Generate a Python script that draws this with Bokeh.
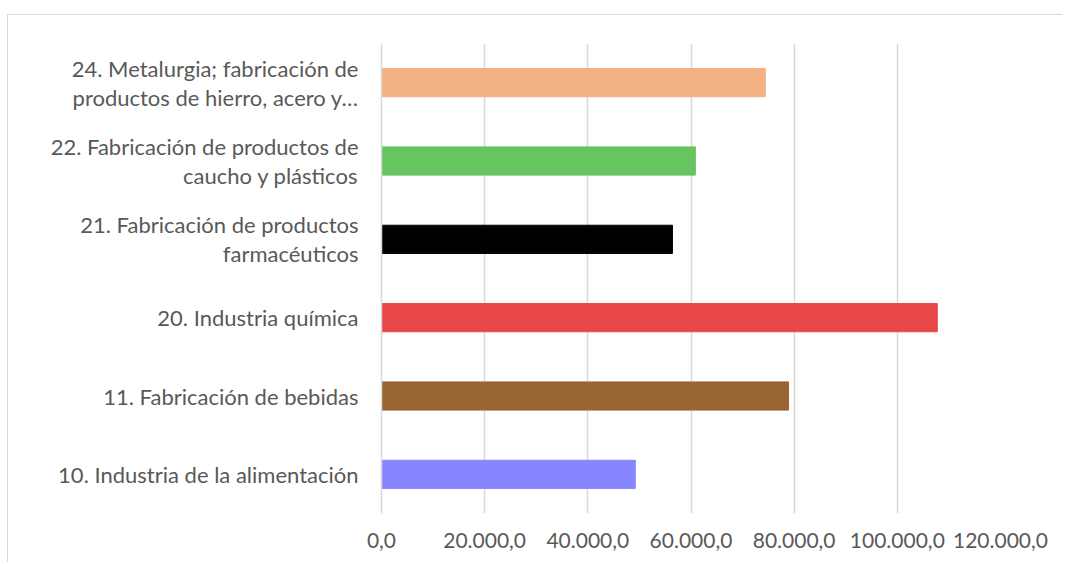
from bokeh.plotting import figure
from bokeh.models import FactorRange, FixedTicker, ColumnDataSource, Range1d
from bokeh.embed import file_html
from bokeh.resources import INLINE

categories = [
    "10. Industria de la alimentación",
    "11. Fabricación de bebidas",
    "20. Industria química",
    "21. Fabricación de productos\nfarmacéuticos",
    "22. Fabricación de productos de\ncaucho y plásticos",
    "24. Metalurgia; fabricación de\nproductos de hierro, acero y…",
]
values = [49200, 78900, 107750, 56400, 60850, 74400]
colors = ["#8686FF", "#996633", "#E84747", "#000000", "#66C55F", "#F4B183"]
tick_values = [0, 20000, 40000, 60000, 80000, 100000, 120000]
tick_labels = ["0,0", "20.000,0", "40.000,0", "60.000,0", "80.000,0", "100.000,0", "120.000,0"]

src = ColumnDataSource(dict(cat=categories, val=values, color=colors))

p = figure(
    width=1055, height=548,
    y_range=FactorRange(*categories, range_padding=0),
    x_range=Range1d(0, 120000),
    output_backend="svg", toolbar_location=None,
    min_border_left=373, min_border_right=63,
    min_border_top=28, min_border_bottom=50,
)
p.styles = {"border-left": "1px solid #d9d9d9", "border-top": "1px solid #d9d9d9",
            "margin-top": "14px", "margin-left": "7px"}

p.hbar(y="cat", right="val", left=0, height=0.36, color="color", source=src)

p.outline_line_color = None
p.ygrid.grid_line_color = None
p.xgrid.grid_line_color = "#d9d9d9"
p.xgrid.grid_line_width = 1.5
p.xaxis.ticker = FixedTicker(ticks=tick_values)
p.xaxis.major_label_overrides = {v: s for v, s in zip(tick_values, tick_labels)}
p.xaxis.axis_line_color = None
p.xaxis.major_tick_line_color = None
p.xaxis.minor_tick_line_color = None
p.xaxis.major_tick_out = 0
p.xaxis.major_label_standoff = 19

p.yaxis.axis_line_color = "#d9d9d9"
p.yaxis.axis_line_width = 1.5
p.yaxis.major_tick_line_color = None
p.yaxis.major_tick_out = 0
p.yaxis.major_label_standoff = 23
p.yaxis.major_label_text_line_height = 1.08

for ax in (p.xaxis, p.yaxis):
    ax.major_label_text_font = "Lato"
    ax.major_label_text_color = "#595959"
p.xaxis.major_label_text_font_size = "21px"
p.yaxis.major_label_text_font_size = "22px"

open("out.html", "w").write(file_html(p, INLINE))
